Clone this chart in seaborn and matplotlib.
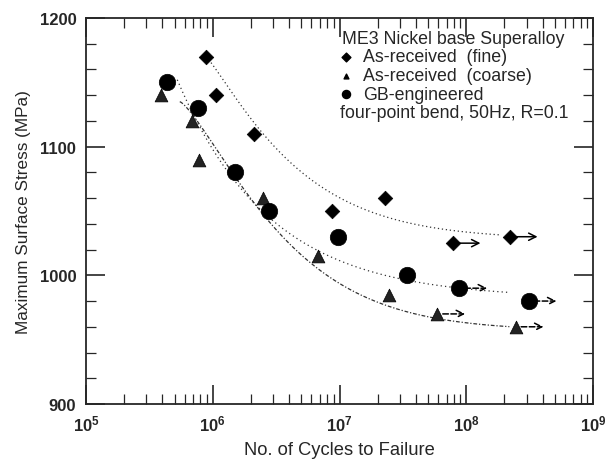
import numpy as np
import pandas as pd
import matplotlib
matplotlib.use("Agg")
import matplotlib.pyplot as plt
from matplotlib.ticker import LogLocator, MultipleLocator, NullFormatter
import seaborn as sns

# --- data ---
fine_N = [8.85e5, 1.07e6, 2.1e6, 8.7e6, 2.3e7, 7.8e7, 2.2e8]
fine_S = [1170, 1140, 1110, 1050, 1060, 1025, 1030]
fine_runout = [0, 0, 0, 0, 0, 1, 1]

coarse_N = [3.9e5, 6.9e5, 7.8e5, 2.5e6, 6.8e6, 2.45e7, 5.9e7, 2.45e8]
coarse_S = [1140, 1120, 1090, 1060, 1015, 985, 970, 960]
coarse_runout = [0, 0, 0, 0, 0, 0, 1, 1]

gb_N = [4.35e5, 7.6e5, 1.49e6, 2.76e6, 9.8e6, 3.4e7, 8.8e7, 3.1e8]
gb_S = [1150, 1130, 1080, 1050, 1030, 1000, 990, 980]
gb_runout = [0, 0, 0, 0, 0, 0, 1, 1]

# trend curves: S = S_inf + A * exp(-k * (logN - logN0)**p)
fine_fit = dict(x0=5.945, x1=8.26, s_inf=1028, A=142, k=1.39, p=1.17)
coarse_fit = dict(x0=5.74, x1=8.34, s_inf=957, A=178, k=1.17, p=1.3)
gb_fit = dict(x0=5.72, x1=8.34, s_inf=982, A=170, k=1.37, p=1.0)

labels = ["As-received  (fine)", "As-received  (coarse)", "GB-engineered"]

df = pd.concat([
    pd.DataFrame({"N": fine_N, "S": fine_S, "runout": fine_runout, "group": labels[0]}),
    pd.DataFrame({"N": coarse_N, "S": coarse_S, "runout": coarse_runout, "group": labels[1]}),
    pd.DataFrame({"N": gb_N, "S": gb_S, "runout": gb_runout, "group": labels[2]}),
], ignore_index=True)


def trend(fit, group):
    x = np.linspace(fit["x0"], fit["x1"], 200)
    s = fit["s_inf"] + fit["A"] * np.exp(-fit["k"] * (x - fit["x0"]) ** fit["p"])
    return pd.DataFrame({"N": 10 ** x, "S": s, "group": group})


curves = pd.concat([trend(fine_fit, labels[0]), trend(coarse_fit, labels[1]),
                    trend(gb_fit, labels[2])], ignore_index=True)

sns.set_style("ticks")
plt.rcParams["font.family"] = ["Liberation Sans", "DejaVu Sans"]

fig = plt.figure(figsize=(6.13, 4.6), dpi=100)
ax = fig.add_axes([0.1403, 0.1196, 0.8271, 0.8391])

line_styles = {labels[0]: (0, (1, 2.2)), labels[1]: (0, (3, 1.5, 1, 1.5)), labels[2]: (0, (1, 2.5))}
for g, sub in curves.groupby("group"):
    sns.lineplot(data=sub, x="N", y="S", ax=ax, color="#333333", lw=0.9,
                 linestyle=line_styles[g], legend=False, sort=False, estimator=None)

# runout arrows
arrow_ls = {labels[0]: "-", labels[1]: "--", labels[2]: "--"}
for _, r in df[df.runout == 1].iterrows():
    ax.annotate("", xy=(r.N * 10 ** 0.22, r.S), xytext=(r.N, r.S),
                arrowprops=dict(arrowstyle="->", color="black", lw=1.1,
                                linestyle=arrow_ls[r.group], shrinkA=4, shrinkB=0,
                                mutation_scale=13))

markers = {labels[0]: "D", labels[1]: "^", labels[2]: "o"}
sizes = {labels[0]: 55, labels[1]: 85, labels[2]: 140}
colors = {labels[0]: "black", labels[1]: "#222222", labels[2]: "black"}
for g in labels:
    sub = df[df.group == g]
    sns.scatterplot(data=sub, x="N", y="S", ax=ax, marker=markers[g], s=sizes[g],
                    color=colors[g], edgecolor="black", linewidth=0.5, legend=False, zorder=5)

ax.set_xscale("log")
ax.set_xlim(1e5, 1e9)
ax.set_ylim(900, 1200)
ax.xaxis.set_major_locator(LogLocator(base=10, numticks=10))
ax.xaxis.set_minor_locator(LogLocator(base=10, subs=np.arange(2, 10), numticks=20))
ax.xaxis.set_minor_formatter(NullFormatter())
ax.yaxis.set_major_locator(MultipleLocator(100))
ax.yaxis.set_minor_locator(MultipleLocator(20))
ax.tick_params(which="major", direction="in", length=14, width=1.2, top=True, right=True,
               labelsize=12, pad=7)
ax.tick_params(which="minor", direction="in", length=7, width=0.9, top=True, right=True)
for lab in ax.get_xticklabels() + ax.get_yticklabels():
    lab.set_fontweight("bold")
for sp in ax.spines.values():
    sp.set_linewidth(1.3)

ax.set_xlabel("No. of Cycles to Failure", fontsize=13.2, labelpad=5)
ax.set_ylabel("Maximum Surface Stress (MPa)", fontsize=12.3, labelpad=6)

# legend block drawn by hand
tr = ax.transAxes
fs = 12.8
ax.text(0.505, 0.946, "ME3 Nickel base Superalloy", transform=tr, fontsize=fs, va="center")
leg_sizes = {labels[0]: 20, labels[1]: 12, labels[2]: 34}
leg_rows = [0.899, 0.850, 0.803]
for g, y in zip(labels, leg_rows):
    ax.scatter([0.513], [y], transform=tr, marker=markers[g], s=leg_sizes[g], color="black")
    ax.text(0.546, y, g, transform=tr, fontsize=fs, va="center")
ax.text(0.501, 0.756, "four-point bend, 50Hz, R=0.1", transform=tr, fontsize=fs, va="center")

fig.savefig("out.png", dpi=100)
